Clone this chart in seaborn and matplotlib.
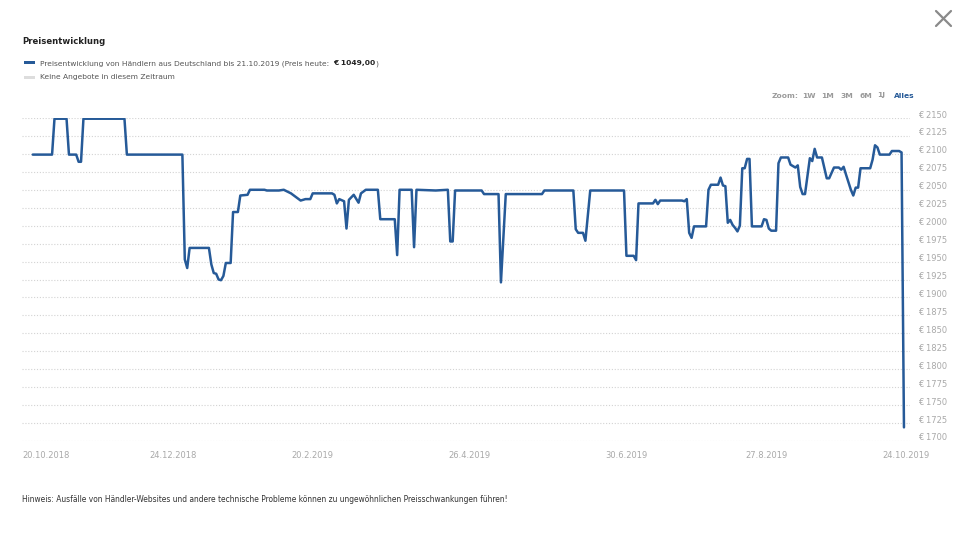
import matplotlib
matplotlib.use("Agg")
import matplotlib.pyplot as plt
import seaborn as sns
import pandas as pd
from matplotlib.transforms import ScaledTranslation
from matplotlib.lines import Line2D
from matplotlib.patches import Rectangle

# ---------------- data ----------------
dates = [
    "2018-10-27", "2018-11-04", "2018-11-05", "2018-11-10", "2018-11-11", "2018-11-14",
    "2018-11-15", "2018-11-16", "2018-11-17", "2018-12-04", "2018-12-05", "2018-12-28",
    "2018-12-29", "2018-12-30", "2018-12-31", "2019-01-08", "2019-01-09", "2019-01-10",
    "2019-01-11", "2019-01-12", "2019-01-13", "2019-01-14", "2019-01-15", "2019-01-17",
    "2019-01-18", "2019-01-20", "2019-01-21", "2019-01-24", "2019-01-25", "2019-01-31",
    "2019-02-01", "2019-02-06", "2019-02-08", "2019-02-11", "2019-02-15", "2019-02-17",
    "2019-02-19", "2019-02-20", "2019-02-28", "2019-03-01", "2019-03-02", "2019-03-03",
    "2019-03-05", "2019-03-06", "2019-03-07", "2019-03-09", "2019-03-11", "2019-03-12",
    "2019-03-14", "2019-03-19", "2019-03-20", "2019-03-26", "2019-03-27", "2019-03-28",
    "2019-04-02", "2019-04-03", "2019-04-04", "2019-04-12", "2019-04-17", "2019-04-18",
    "2019-04-19", "2019-04-20", "2019-05-01", "2019-05-02", "2019-05-08", "2019-05-09",
    "2019-05-11", "2019-05-26", "2019-05-27", "2019-06-08", "2019-06-09", "2019-06-10",
    "2019-06-12", "2019-06-13", "2019-06-15", "2019-06-29", "2019-06-30", "2019-07-03",
    "2019-07-04", "2019-07-05", "2019-07-11", "2019-07-12", "2019-07-13", "2019-07-14",
    "2019-07-23", "2019-07-24", "2019-07-25", "2019-07-26", "2019-07-27", "2019-07-28",
    "2019-08-02", "2019-08-03", "2019-08-04", "2019-08-07", "2019-08-08", "2019-08-09",
    "2019-08-10", "2019-08-11", "2019-08-12", "2019-08-13", "2019-08-14", "2019-08-15",
    "2019-08-16", "2019-08-17", "2019-08-18", "2019-08-19", "2019-08-20", "2019-08-21",
    "2019-08-25", "2019-08-26", "2019-08-27", "2019-08-28", "2019-08-29", "2019-08-31",
    "2019-09-01", "2019-09-02", "2019-09-05", "2019-09-06", "2019-09-08", "2019-09-09",
    "2019-09-10", "2019-09-11", "2019-09-12", "2019-09-14", "2019-09-15", "2019-09-16",
    "2019-09-17", "2019-09-19", "2019-09-21", "2019-09-22", "2019-09-24", "2019-09-26",
    "2019-09-27", "2019-09-28", "2019-09-29", "2019-10-01", "2019-10-02", "2019-10-03",
    "2019-10-04", "2019-10-05", "2019-10-09", "2019-10-10", "2019-10-11", "2019-10-12",
    "2019-10-13", "2019-10-17", "2019-10-18", "2019-10-21", "2019-10-22", "2019-10-23",
]
prices = [
    2099, 2099, 2149, 2149, 2099, 2099,
    2089, 2089, 2149, 2149, 2099, 2099,
    1953, 1941, 1969, 1969, 1946, 1934,
    1933, 1925, 1924, 1930, 1948, 1948,
    2019, 2019, 2042, 2043, 2050, 2050,
    2049, 2049, 2050, 2045, 2035, 2037,
    2037, 2045, 2045, 2043, 2031, 2037,
    2034, 1996, 2036, 2043, 2032, 2045,
    2050, 2050, 2009, 2009, 1959, 2050,
    2050, 1970, 2050, 2049, 2050, 1978,
    1978, 2049, 2049, 2044, 2044, 1921,
    2044, 2044, 2049, 2049, 1995, 1990,
    1990, 1979, 2049, 2049, 1958, 1958,
    1952, 2031, 2031, 2036, 2030, 2035,
    2035, 2034, 2037, 1990, 1983, 1999,
    1999, 2050, 2057, 2057, 2067, 2056,
    2055, 2004, 2008, 2001, 1997, 1992,
    2000, 2080, 2080, 2093, 2093, 1999,
    1999, 2009, 2008, 1996, 1993, 1993,
    2087, 2095, 2095, 2085, 2081, 2084,
    2054, 2044, 2044, 2094, 2090, 2107,
    2095, 2095, 2066, 2066, 2081, 2081,
    2078, 2082, 2071, 2050, 2042, 2053,
    2053, 2080, 2080, 2092, 2112, 2109,
    2099, 2099, 2104, 2104, 2102, 1719,
]
y_ticks = list(range(1700, 2151, 25))
x_tick_dates = ["2018-12-24", "2019-02-20", "2019-04-26", "2019-06-30", "2019-08-27", "2019-10-24"]
x_tick_labels = ["24.12.2018", "20.2.2019", "26.4.2019", "30.6.2019", "27.8.2019", "24.10.2019"]
first_x_label = "20.10.2018"

title = "Preisentwicklung"
legend_main = "Preisentwicklung von Händlern aus Deutschland bis 21.10.2019 (Preis heute:"
legend_price = "€ 1049,00"
legend_gap = "Keine Angebote in diesem Zeitraum"
zoom_labels = ["Zoom:", "1W", "1M", "3M", "6M", "1J", "Alles"]
footer = ("Hinweis: Ausfälle von Händler-Websites und andere technische Probleme "
          "können zu ungewöhnlichen Preisschwankungen führen!")

# ---------------- styling ----------------
BLUE = "#265a98"
GRAY_TXT = "#a9a9a9"
sns.set_theme(style="white")
plt.rcParams["font.family"] = ["DejaVu Sans"]

W, H = 960, 540
fig = plt.figure(figsize=(W / 100, H / 100), dpi=100)
fig.patch.set_facecolor("white")
ax = fig.add_axes([22 / W, 1 - 441 / H, 888 / W, 323 / H])
ax.set_facecolor("white")

df = pd.DataFrame({"Datum": pd.to_datetime(dates), "Preis": prices})
sns.lineplot(data=df, x="Datum", y="Preis", ax=ax, color=BLUE, linewidth=1.8,
             estimator=None, sort=False)
for ln in ax.lines:
    ln.set_solid_joinstyle("round")
    ln.set_solid_capstyle("round")

ax.set_ylim(1700, 2150)
ax.set_xlim(pd.Timestamp("2018-10-22 13:00"), pd.Timestamp("2019-10-25 12:00"))
ax.set_yticks(y_ticks)
ax.set_yticklabels([f"€ {v}" for v in y_ticks])
ax.yaxis.tick_right()
ax.set_xticks(pd.to_datetime(x_tick_dates))
ax.set_xticklabels(x_tick_labels)
ax.set_xlabel("")
ax.set_ylabel("")
ax.grid(axis="y", color="#d3d3d3", linestyle=(0, (1, 1.6)), linewidth=0.8)
ax.grid(axis="x", visible=False)
for s in ax.spines.values():
    s.set_visible(False)
ax.tick_params(axis="y", length=0, pad=5.8, labelsize=6, labelcolor=GRAY_TXT)
ax.tick_params(axis="x", length=0, pad=7, labelsize=6, labelcolor=GRAY_TXT)
for lab in ax.get_yticklabels():
    lab.set_transform(lab.get_transform() + ScaledTranslation(0, 4 / 100, fig.dpi_scale_trans))

fig.canvas.draw()
renderer = fig.canvas.get_renderer()


def place(x, y, s, width=None, size=6.0, **kw):
    t = fig.text(x / W, 1 - y / H, s, ha="left", va="center", fontsize=size, **kw)
    if width:
        w = t.get_window_extent(renderer=renderer).width
        t.set_fontsize(size * width / w)
    return t


def right_px(t):
    return t.get_window_extent(renderer=renderer).x1


# first x label, justified inside the plot
fig.text(22 / W, 1 - 455 / H, first_x_label, ha="left", va="center",
         fontsize=6, color=GRAY_TXT)

# title
place(22, 41, title, width=84, size=7, color="#222222", fontweight="bold")

# legend
fig.add_artist(Rectangle((24 / W, 1 - 64 / H), 11 / W, 2.6 / H, transform=fig.transFigure,
                         facecolor=BLUE, edgecolor="none"))
t1 = place(40.5, 63.5, legend_main, width=292, size=6, color="#555555")
fs = t1.get_fontsize()
t2 = place(right_px(t1) + 3, 63.5, legend_price, size=fs, color="#222222", fontweight="bold")
place(right_px(t2) + 0.5, 63.5, ")", size=fs, color="#555555")
fig.add_artist(Rectangle((24 / W, 1 - 78.5 / H), 11 / W, 2.6 / H, transform=fig.transFigure,
                         facecolor="#dddddd", edgecolor="none"))
place(40.5, 77.5, legend_gap, size=fs, color="#555555")

# zoom buttons
zx = [772, 802, 821, 840, 859, 877.5, 893.5]
for lab, x in zip(zoom_labels, zx):
    if lab == "Alles":
        place(x, 95.5, lab, width=20.5, size=5.5, color=BLUE, fontweight="bold")
    else:
        place(x, 95.5, lab, size=5.4, color="#9a9a9a", fontweight="bold")

# footer
place(22, 500, footer, width=488, size=5.5, color="#333333")

# close button
for xs, ys in (([936, 951], [11, 26]), ([936, 951], [26, 11])):
    fig.add_artist(Line2D([x / W for x in xs], [1 - y / H for y in ys], transform=fig.transFigure,
                          color="#8a8a8a", linewidth=1.6))

fig.savefig("out.png", dpi=100, facecolor="white")
